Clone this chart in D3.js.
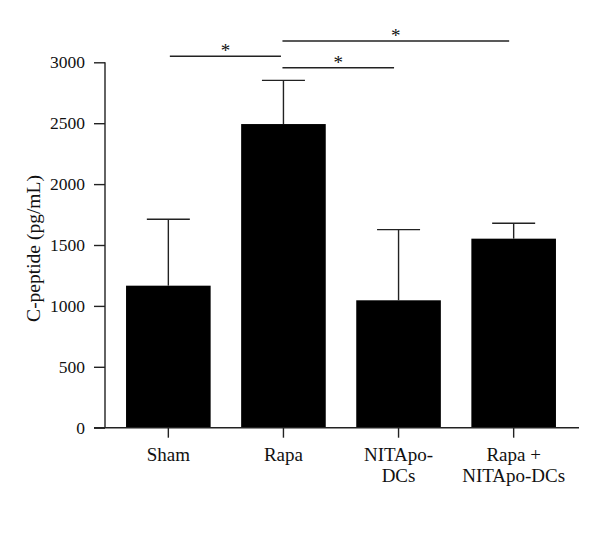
<!DOCTYPE html>
<html><head><meta charset="utf-8">
<script src="https://cdn.jsdelivr.net/npm/d3@7"></script>
<style>body{margin:0;background:#fff}svg{display:block}text{font-family:"Liberation Serif","Times New Roman",serif;fill:#111}</style>
</head><body>
<svg id="c" width="600" height="537"></svg>
<script>
const categories = [["Sham"], ["Rapa"], ["NITApo-", "DCs"], ["Rapa +", "NITApo-DCs"]];
const means = [1166, 2493, 1046, 1552];
const errors = [545, 359, 580, 126];
const yTicks = [0, 500, 1000, 1500, 2000, 2500, 3000];
const sigPairs = [[0, 1, 3050], [1, 2, 2955], [1, 3, 3175]];
const yLabel = "C-peptide (pg/mL)";

const svg = d3.select("#c");
const x0 = 105, x1 = 579, yTop = 62.3, yBot = 427.7;
const x = d3.scaleBand().domain(d3.range(categories.length)).range([110.5, 571.5]).paddingInner(0.265).paddingOuter(0.135);
const y = d3.scaleLinear().domain([0, 3000]).range([yBot, yTop]);
const stroke = "#222", sw = 1.4;

// bars
svg.selectAll("rect.bar").data(means).join("rect")
  .attr("x", (d, i) => x(i)).attr("width", x.bandwidth())
  .attr("y", d => y(d)).attr("height", d => y(0) - y(d)).attr("fill", "#000");

// error bars
const eg = svg.append("g").attr("stroke", stroke).attr("stroke-width", sw);
means.forEach((m, i) => {
  const cx = x(i) + x.bandwidth() / 2;
  eg.append("line").attr("x1", cx).attr("x2", cx).attr("y1", y(m)).attr("y2", y(m + errors[i]));
  eg.append("line").attr("x1", cx - 21.5).attr("x2", cx + 21.5).attr("y1", y(m + errors[i])).attr("y2", y(m + errors[i]));
});

// y axis
const ya = svg.append("g").attr("transform", `translate(${x0},0)`)
  .call(d3.axisLeft(y).tickValues(yTicks).tickSize(11).tickPadding(9).tickFormat(d3.format("d")));
ya.select(".domain").attr("stroke", stroke).attr("stroke-width", sw).attr("d", `M0,${yTop}V${yBot}`);
ya.selectAll(".tick line").attr("stroke", stroke).attr("stroke-width", sw);
ya.selectAll(".tick text").attr("font-size", 17.5).attr("font-family", "Liberation Serif").attr("fill", "#111");

// x axis
const xa = svg.append("g").attr("transform", `translate(0,${yBot})`);
xa.append("line").attr("x1", 94).attr("x2", x1).attr("stroke", stroke).attr("stroke-width", sw);
categories.forEach((lines, i) => {
  const cx = x(i) + x.bandwidth() / 2;
  xa.append("line").attr("x1", cx).attr("x2", cx).attr("y1", 0).attr("y2", 10).attr("stroke", stroke).attr("stroke-width", sw);
  const t = xa.append("text").attr("text-anchor", "middle").attr("font-size", 19).attr("x", cx).attr("y", 33.5);
  lines.forEach((l, k) => t.append("tspan").attr("x", cx).attr("dy", k === 0 ? 0 : 20.5).text(l));
});

// y label
svg.append("text").attr("transform", `translate(40,248.5) rotate(-90)`)
  .attr("text-anchor", "middle").attr("font-size", 19.5).text(yLabel);

// significance
const sg = svg.append("g");
sigPairs.forEach(([a, b, v]) => {
  const ca = x(a) + x.bandwidth() / 2, cb = x(b) + x.bandwidth() / 2;
  const ly = y(v);
  const left = a === 1 ? ca - 1 : ca + 1.5;
  const right = b === 1 ? cb - 2.5 : cb - 4.5;
  sg.append("line").attr("x1", left).attr("x2", right).attr("y1", ly).attr("y2", ly).attr("stroke", stroke).attr("stroke-width", sw);
  sg.append("text").attr("x", (left + right) / 2).attr("y", ly + 1).attr("text-anchor", "middle").attr("font-size", 19).text("*");
});
</script>
</body></html>
